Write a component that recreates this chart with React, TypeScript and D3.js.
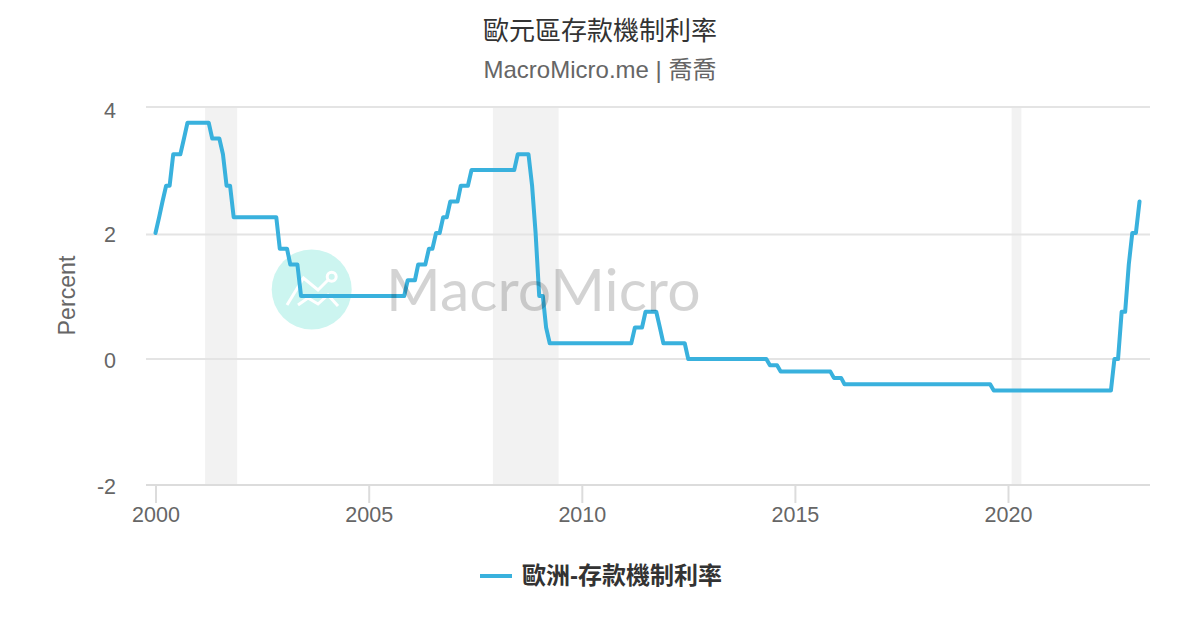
import { useEffect, useRef } from "react";
import * as d3 from "d3";

const titleText = "歐元區存款機制利率";
const subtitleText = "MacroMicro.me | 喬喬";
const seriesName = "歐洲-存款機制利率";
const yTicks = [-2, 0, 2, 4];
const xTickYears = [2000, 2005, 2010, 2015, 2020];
const startYear = 2000;

// monthly deposit facility rate, one row per year, starts Jan 2000
const rates = [
  2, 2.25, 2.5, 2.75, 2.75, 3.25, 3.25, 3.25, 3.5, 3.75, 3.75, 3.75,
  3.75, 3.75, 3.75, 3.75, 3.5, 3.5, 3.5, 3.25, 2.75, 2.75, 2.25, 2.25,
  2.25, 2.25, 2.25, 2.25, 2.25, 2.25, 2.25, 2.25, 2.25, 2.25, 2.25, 1.75,
  1.75, 1.75, 1.5, 1.5, 1.5, 1, 1, 1, 1, 1, 1, 1,
  1, 1, 1, 1, 1, 1, 1, 1, 1, 1, 1, 1,
  1, 1, 1, 1, 1, 1, 1, 1, 1, 1, 1, 1.25,
  1.25, 1.25, 1.5, 1.5, 1.5, 1.75, 1.75, 2, 2, 2.25, 2.25, 2.5,
  2.5, 2.5, 2.75, 2.75, 2.75, 3, 3, 3, 3, 3, 3, 3,
  3, 3, 3, 3, 3, 3, 3.25, 3.25, 3.25, 3.25, 2.75, 2,
  1, 1, 0.5, 0.25, 0.25, 0.25, 0.25, 0.25, 0.25, 0.25, 0.25, 0.25,
  0.25, 0.25, 0.25, 0.25, 0.25, 0.25, 0.25, 0.25, 0.25, 0.25, 0.25, 0.25,
  0.25, 0.25, 0.25, 0.5, 0.5, 0.5, 0.75, 0.75, 0.75, 0.75, 0.5, 0.25,
  0.25, 0.25, 0.25, 0.25, 0.25, 0.25, 0, 0, 0, 0, 0, 0,
  0, 0, 0, 0, 0, 0, 0, 0, 0, 0, 0, 0,
  0, 0, 0, 0, 0, -0.1, -0.1, -0.1, -0.2, -0.2, -0.2, -0.2,
  -0.2, -0.2, -0.2, -0.2, -0.2, -0.2, -0.2, -0.2, -0.2, -0.2, -0.2, -0.3,
  -0.3, -0.3, -0.4, -0.4, -0.4, -0.4, -0.4, -0.4, -0.4, -0.4, -0.4, -0.4,
  -0.4, -0.4, -0.4, -0.4, -0.4, -0.4, -0.4, -0.4, -0.4, -0.4, -0.4, -0.4,
  -0.4, -0.4, -0.4, -0.4, -0.4, -0.4, -0.4, -0.4, -0.4, -0.4, -0.4, -0.4,
  -0.4, -0.4, -0.4, -0.4, -0.4, -0.4, -0.4, -0.4, -0.5, -0.5, -0.5, -0.5,
  -0.5, -0.5, -0.5, -0.5, -0.5, -0.5, -0.5, -0.5, -0.5, -0.5, -0.5, -0.5,
  -0.5, -0.5, -0.5, -0.5, -0.5, -0.5, -0.5, -0.5, -0.5, -0.5, -0.5, -0.5,
  -0.5, -0.5, -0.5, -0.5, -0.5, -0.5, 0, 0, 0.75, 0.75, 1.5, 2,
  2, 2.5,
];

// recession bands as start and end dates
const recessionStarts = ["2001-03-01", "2007-12-01", "2020-02-01"];
const recessionEnds = ["2001-12-01", "2009-06-16", "2020-04-25"];

const sansFont = "'Liberation Sans', 'Noto Sans CJK TC', sans-serif";
const lineColor = "#39b1dd";
const axisColor = "#dcdcdc";

export default function App() {
  const svgRef = useRef<SVGSVGElement>(null);

  useEffect(() => {
    const svg = d3.select(svgRef.current);
    svg.selectAll("*").remove();

    const defs = svg.append("defs");
    defs.append("filter").attr("id", "soft").append("feGaussianBlur").attr("stdDeviation", 0.7);

    const x = d3
      .scaleUtc()
      .domain([new Date(Date.UTC(2000, 0, 1)), new Date(Date.UTC(2020, 0, 1))])
      .range([155.5, 1008]);
    const y = d3.scaleLinear().domain([-2, 4]).range([485, 107]);
    const plotLeft = 146;
    const plotRight = 1150;

    // recession bands
    svg
      .append("g")
      .selectAll("rect")
      .data(recessionStarts)
      .join("rect")
      .attr("x", (d) => x(new Date(d)))
      .attr("width", (d, i) => x(new Date(recessionEnds[i])) - x(new Date(d)))
      .attr("y", y(4))
      .attr("height", y(-2) - y(4))
      .attr("fill", "#f2f2f2");

    // grid, the 2 line sits a little low in the reference
    svg
      .append("g")
      .selectAll("line")
      .data(yTicks.filter((d) => d !== -2))
      .join("line")
      .attr("x1", plotLeft)
      .attr("x2", plotRight)
      .attr("y1", (d) => y(d) + (d === 2 ? 1.5 : 0))
      .attr("y2", (d) => y(d) + (d === 2 ? 1.5 : 0))
      .attr("stroke", "#e4e4e4")
      .attr("stroke-width", 2);

    // y labels
    svg
      .append("g")
      .selectAll("text")
      .data(yTicks)
      .join("text")
      .attr("x", 116)
      .attr("y", (d) => y(d) + (d === 4 ? 10.5 : 9))
      .attr("text-anchor", "end")
      .attr("font-family", sansFont)
      .attr("font-size", 21.5)
      .attr("fill", "#666666")
      .text((d) => d);

    svg
      .append("text")
      .attr("transform", "translate(75,295.5) rotate(-90)")
      .attr("text-anchor", "middle")
      .attr("font-family", sansFont)
      .attr("font-size", 23.2)
      .attr("fill", "#666666")
      .text("Percent");

    // x axis
    const xAxis = d3
      .axisBottom(x)
      .tickValues(xTickYears.map((yr) => new Date(Date.UTC(yr, 0, 1))))
      .tickFormat((d) => String((d as Date).getUTCFullYear()))
      .tickSize(18)
      .tickPadding(0);
    const axisG = svg.append("g").attr("transform", `translate(0,${y(-2)})`).call(xAxis);
    axisG.select(".domain").remove();
    axisG.selectAll(".tick line").attr("stroke", axisColor).attr("stroke-width", 2);
    axisG
      .selectAll(".tick text")
      .attr("y", 37)
      .attr("dy", 0)
      .attr("font-family", sansFont)
      .attr("font-size", 21.5)
      .attr("fill", "#666666");
    svg
      .append("line")
      .attr("x1", plotLeft)
      .attr("x2", plotRight)
      .attr("y1", y(-2))
      .attr("y2", y(-2))
      .attr("stroke", axisColor)
      .attr("stroke-width", 2);

    // logo goes under the line
    const logo = svg.append("g");
    logo.append("circle").attr("cx", 311.7).attr("cy", 289.5).attr("r", 40).attr("fill", "#ccf5f0");
    const logoLine = d3.line();
    logo
      .append("path")
      .attr("d", logoLine([[287, 305], [303.5, 278], [318, 290], [328, 280]]))
      .attr("fill", "none")
      .attr("stroke", "#fff")
      .attr("stroke-width", 3);
    logo
      .append("path")
      .attr("d", logoLine([[298, 305], [308, 298], [318, 304], [328, 295], [338, 306]]))
      .attr("fill", "none")
      .attr("stroke", "#fff")
      .attr("stroke-width", 3);
    logo.append("circle").attr("cx", 331.7).attr("cy", 276.7).attr("r", 4.5).attr("fill", "none").attr("stroke", "#fff").attr("stroke-width", 3);

    // rate line
    const line = d3
      .line<number>()
      .x((_, i) => x(new Date(Date.UTC(startYear, i, 1))))
      .y((d) => y(d));
    svg
      .append("path")
      .attr("d", line(rates))
      .attr("fill", "none")
      .attr("stroke", lineColor)
      .attr("stroke-width", 4)
      .attr("stroke-linejoin", "round")
      .attr("stroke-linecap", "round");

    // watermark word sits above the line
    svg
      .append("text")
      .attr("x", 386)
      .attr("y", 311)
      .attr("font-family", "Lato, sans-serif")
      .attr("font-weight", 400)
      .attr("font-size", 59)
      .attr("fill", "#000")
      .attr("opacity", 0.17)
      .attr("filter", "url(#soft)")
      .text("MacroMicro");

    // title block
    svg
      .append("text")
      .attr("x", 600)
      .attr("y", 40)
      .attr("text-anchor", "middle")
      .attr("font-family", sansFont)
      .attr("font-size", 26)
      .attr("fill", "#333333")
      .text(titleText);
    svg
      .append("text")
      .attr("x", 600)
      .attr("y", 78)
      .attr("text-anchor", "middle")
      .attr("font-family", sansFont)
      .attr("font-size", 24)
      .attr("fill", "#666666")
      .text(subtitleText);

    // legend
    svg
      .append("line")
      .attr("x1", 480)
      .attr("x2", 512)
      .attr("y1", 576)
      .attr("y2", 576)
      .attr("stroke", lineColor)
      .attr("stroke-width", 4);
    svg
      .append("text")
      .attr("x", 522)
      .attr("y", 584)
      .attr("font-family", sansFont)
      .attr("font-size", 24)
      .attr("font-weight", 700)
      .attr("fill", "#333333")
      .text(seriesName);
  }, []);

  return (
    <svg
      ref={svgRef}
      width={1200}
      height={630}
      style={{ position: "absolute", left: 0, top: 0, background: "#fff" }}
    />
  );
}
